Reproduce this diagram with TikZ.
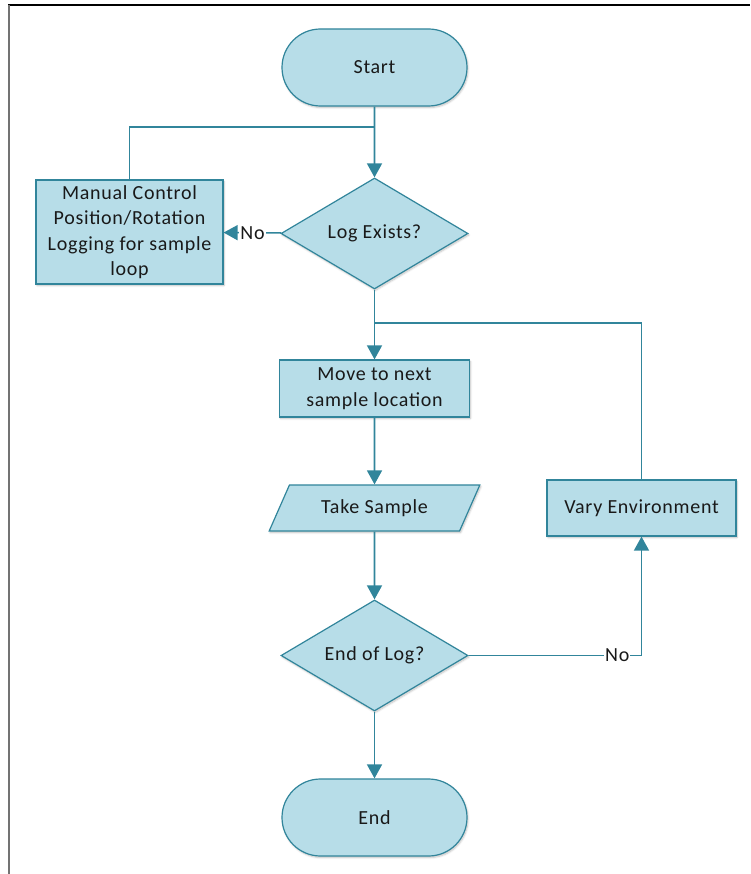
\documentclass[tikz,border=0pt]{standalone}
\usepackage{fontspec}
\setmainfont{Carlito}[LetterSpace=3.5]
\usetikzlibrary{shapes.geometric,shapes.misc,arrows.meta,positioning,shadows.blur}
\definecolor{flowfill}{RGB}{183,221,232}
\definecolor{flowline}{RGB}{49,133,155}

\begin{document}
\begin{tikzpicture}[x=1pt, y=-1pt,
  base/.style={draw=flowline, fill=flowfill, line width=1.2pt, align=center, inner sep=2pt, font=\fontsize{20}{25.5}\selectfont, text=black!90, blur shadow={shadow xshift=1pt, shadow yshift=-1.5pt, shadow blur steps=6, shadow opacity=25}},
  term/.style={base, rounded rectangle, minimum width=189pt, minimum height=77pt},
  box/.style={base, rectangle, minimum width=189pt, minimum height=56pt},
  dec/.style={base, diamond, aspect=1.68, minimum width=187pt, minimum height=111pt, inner sep=0pt},
  io/.style={base, trapezium, trapezium left angle=58, trapezium right angle=122, trapezium stretches=true, minimum width=211pt, minimum height=46pt},
  conn/.style={draw=flowline, line width=1.6pt},
  arr/.style={conn, -{Triangle[length=14pt, width=15pt]}},
  lbl/.style={fill=white, inner sep=1pt, text=black!90, font=\fontsize{20}{24}\selectfont}
]
\useasboundingbox (0,0) rectangle (750,874);
% frame
\draw[black, line width=1.5pt] (8,5) -- (750,5);
\draw[black!55, line width=2pt] (9,5) -- (9,874);

\node[term] (start) at (374.5,67.5) {Start};
\node[dec] (exists) at (374.5,233.5) {Log Exists?};
\node[box, minimum width=187pt, minimum height=104pt] (manual) at (129.5,232) {Manual Control\\Position/Rotation\\Logging for sample\\loop};
\node[box, minimum width=190pt, minimum height=57pt] (move) at (374.5,388.5) {Move to next\\sample location};
\node[io] (take) at (374.5,508) {Take Sample};
\node[box] (vary) at (641.5,508) {Vary Environment};
\node[dec] (endlog) at (374.5,655.5) {End of Log?};
\node[term] (stop) at (374.5,817.5) {End};

\coordinate (j1) at (374.5,127);
\coordinate (j2) at (374.5,323);

\draw[arr] (start) -- (exists);
\draw[conn] (manual.north) |- (j1);
\draw[arr] (exists) -- node[lbl]{No} (manual);
\draw[arr] (exists) -- (move);
\draw[conn] (vary.north) |- (j2);
\draw[arr] (move) -- (take);
\draw[arr] (take) -- (endlog);
\draw[arr] (endlog) -| node[lbl, pos=0.43]{No} (vary);
\draw[arr] (endlog) -- (stop);
\end{tikzpicture}
\end{document}
